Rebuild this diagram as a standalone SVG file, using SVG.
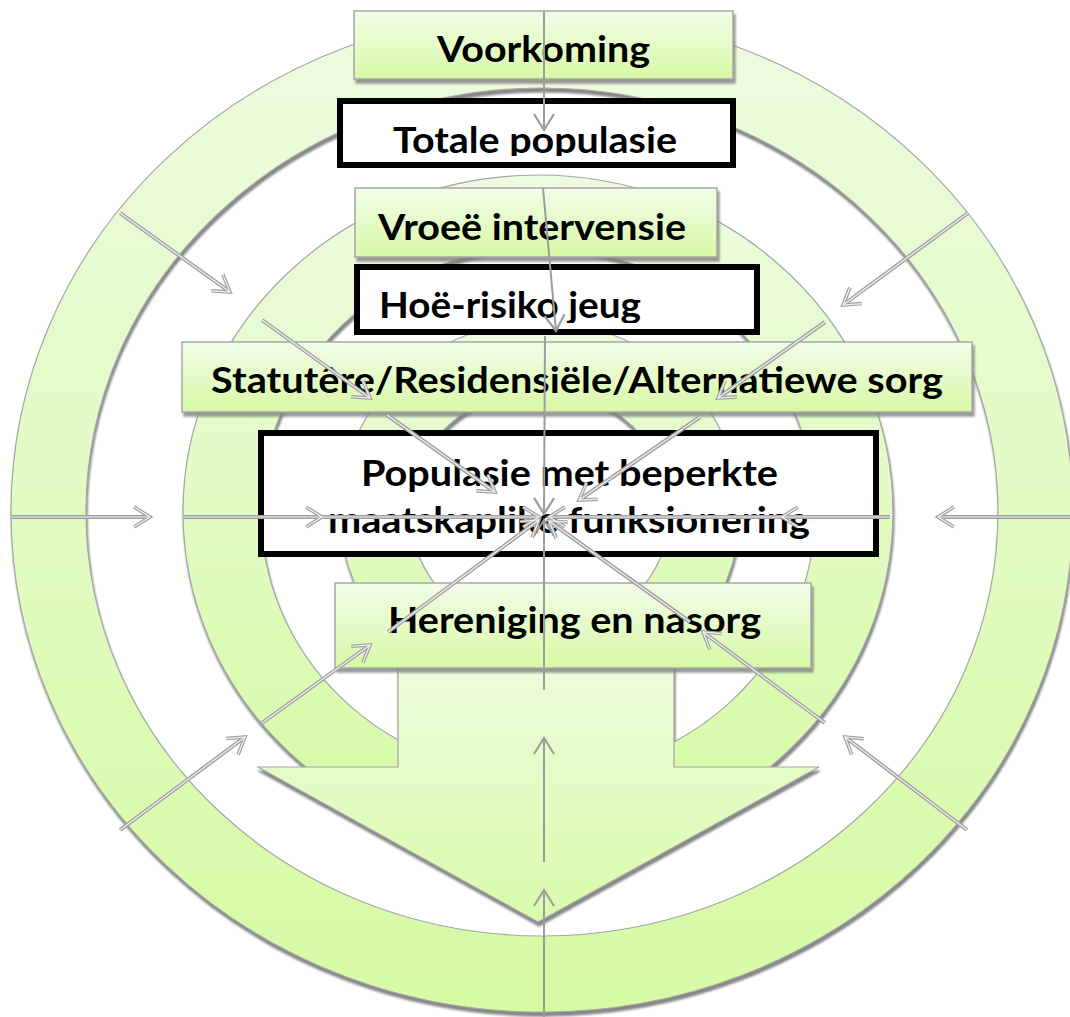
<svg xmlns="http://www.w3.org/2000/svg" width="1070" height="1017" viewBox="0 0 1070 1017">
<style>
.ring{fill:url(#gRing);stroke:#a6a6a6;stroke-width:1.2;fill-rule:evenodd}
.gbox{fill:url(#gBox);stroke:#a6a6a6;stroke-width:1.5}
.wbox{fill:#ffffff;stroke:#000000;stroke-width:6}
.lbl{font-family:Lato,'Liberation Sans',sans-serif;font-weight:bold;font-size:37px;fill:#000000}
.dbl path{fill:none;stroke:#a0a0a0;stroke-width:4;marker-end:url(#aD)}
.dbli path{fill:none;stroke:#f2f2f2;stroke-width:1.2;marker-end:url(#aDi)}
.sgl path{fill:none;stroke:#9c9c9c;stroke-width:2;marker-end:url(#aS)}
</style>
<defs>
<linearGradient id="gRing" x1="0" y1="0" x2="0" y2="1">
<stop offset="0" stop-color="#edfbe0"/>
<stop offset="1" stop-color="#d6fba4"/>
</linearGradient>
<linearGradient id="gBox" x1="0" y1="0" x2="0" y2="1">
<stop offset="0" stop-color="#f2fde9"/>
<stop offset="1" stop-color="#d8f9a6"/>
</linearGradient>
<linearGradient id="gArrow" x1="0" y1="0" x2="0" y2="1">
<stop offset="0" stop-color="#f1fde8"/>
<stop offset="1" stop-color="#d9fbab"/>
</linearGradient>
<filter id="shR" x="-5%" y="-5%" width="110%" height="112%">
<feDropShadow dx="1" dy="4" stdDeviation="1" flood-color="#7a7a7a" flood-opacity="0.9"/>
</filter>
<filter id="shB" x="-5%" y="-10%" width="110%" height="130%">
<feDropShadow dx="2" dy="4" stdDeviation="0.8" flood-color="#808080" flood-opacity="0.8"/>
</filter>
<clipPath id="cut2"><rect x="0" y="0" width="1070" height="767"/></clipPath>
<clipPath id="clipTot"><rect x="330" y="95" width="410" height="61"/></clipPath>
<clipPath id="clipHoe"><rect x="350" y="262" width="410" height="61"/></clipPath>
<marker id="aD" viewBox="0 0 20 22" refX="17" refY="11" markerWidth="20" markerHeight="22" markerUnits="userSpaceOnUse" orient="auto" overflow="visible">
<path d="M1,1 L17,11 L1,21" fill="none" stroke="#a0a0a0" stroke-width="3.6"/>
</marker>
<marker id="aDi" viewBox="0 0 20 22" refX="17" refY="11" markerWidth="20" markerHeight="22" markerUnits="userSpaceOnUse" orient="auto" overflow="visible">
<path d="M1,1 L17,11 L1,21" fill="none" stroke="#f2f2f2" stroke-width="1.2"/>
</marker>
<marker id="aS" viewBox="0 0 20 22" refX="17" refY="11" markerWidth="20" markerHeight="22" markerUnits="userSpaceOnUse" orient="auto" overflow="visible">
<path d="M1,1 L17,11 L1,21" fill="none" stroke="#9c9c9c" stroke-width="2.2"/>
</marker>
</defs>
<rect width="1070" height="1017" fill="#ffffff"/>

<g id="ring-outer" filter="url(#shR)">
<path class="ring" d="M11,512 A531,500 0 1,1 1073,512 A531,500 0 1,1 11,512 Z M86,512 A456,424 0 1,0 998,512 A456,424 0 1,0 86,512 Z"/>
</g>
<g id="ring-inner" filter="url(#shR)">
<path class="ring" d="M340,512 A200,190 0 1,1 740,512 A200,190 0 1,1 340,512 Z M410,512 A130,122 0 1,0 670,512 A130,122 0 1,0 410,512 Z"/>
</g>
<g id="ring-middle" filter="url(#shR)">
<path class="ring" clip-path="url(#cut2)" d="M183,512 A355,337 0 1,1 893,512 A355,337 0 1,1 183,512 Z M261,512 A277,264 0 1,0 815,512 A277,264 0 1,0 261,512 Z"/>
<path fill="url(#gArrow)" stroke="#a6a6a6" stroke-width="1.2" d="M398,600 L674,600 L674,767 L819,767 L538,922 L258,767 L398,767 Z"/>
</g>

<g id="node-voorkoming">
<rect class="gbox" filter="url(#shB)" x="354" y="11" width="379" height="68"/>
<text class="lbl" x="437" y="62" textLength="213" lengthAdjust="spacingAndGlyphs">Voorkoming</text>
</g>
<g id="node-totale">
<rect class="wbox" x="340" y="101" width="393" height="64"/>
<text class="lbl" clip-path="url(#clipTot)" x="393" y="153" textLength="284" lengthAdjust="spacingAndGlyphs">Totale populasie</text>
</g>
<g id="node-vroee">
<rect class="gbox" filter="url(#shB)" x="355" y="188" width="362" height="69"/>
<text class="lbl" x="378" y="240" textLength="308" lengthAdjust="spacingAndGlyphs">Vroeë intervensie</text>
</g>
<g id="node-hoerisiko">
<rect class="wbox" x="357" y="267" width="400" height="65"/>
<text class="lbl" clip-path="url(#clipHoe)" x="379" y="318" textLength="262" lengthAdjust="spacingAndGlyphs">Hoë-risiko jeug</text>
</g>
<g id="node-statutere">
<rect class="gbox" filter="url(#shB)" x="182" y="342" width="790" height="70"/>
<text class="lbl" x="211" y="393" textLength="732" lengthAdjust="spacingAndGlyphs">Statutêre/Residensiële/Alternatiewe sorg</text>
</g>
<g id="node-populasie">
<rect class="wbox" x="261" y="433" width="615" height="121"/>
<text class="lbl" x="361" y="486" textLength="417" lengthAdjust="spacingAndGlyphs">Populasie met beperkte</text>
<text class="lbl" x="328" y="533" textLength="482" lengthAdjust="spacingAndGlyphs">maatskaplike funksionering</text>
</g>
<g id="node-hereniging">
<rect class="gbox" filter="url(#shB)" x="335" y="583" width="476" height="85"/>
<text class="lbl" x="388" y="633" textLength="373" lengthAdjust="spacingAndGlyphs">Hereniging en nasorg</text>
</g>

<g id="connectors">
<g class="sgl">
<path d="M544,12 L544,130"/>
<path d="M543,188 L556,331"/>
<path d="M545,336 L544,514"/>
<path d="M544,690 L544,520"/>
<path d="M544,862 L544,738"/>
<path d="M544,1017 L544,890"/>
</g>
<g class="dbl">
<path d="M10,517 L150,517"/>
<path d="M183,517 L322,517"/>
<path d="M322,517 L539,517"/>
<path d="M1070,517 L938,517"/>
<path d="M890,517 L782,517"/>
<path d="M782,517 L549,517"/>
<path d="M120,213 L230,292"/>
<path d="M262,320 L370,398"/>
<path d="M387,415 L495,492"/>
<path d="M968,213 L843,305"/>
<path d="M825,322 L718,398"/>
<path d="M700,417 L579,500"/>
<path d="M120,830 L245,737"/>
<path d="M262,723 L370,645"/>
<path d="M388,632 L539,520"/>
<path d="M967,830 L845,737"/>
<path d="M825,723 L703,632"/>
<path d="M690,622 L549,521"/>
</g>
<g class="dbli">
<path d="M10,517 L150,517"/>
<path d="M183,517 L322,517"/>
<path d="M322,517 L539,517"/>
<path d="M1070,517 L938,517"/>
<path d="M890,517 L782,517"/>
<path d="M782,517 L549,517"/>
<path d="M120,213 L230,292"/>
<path d="M262,320 L370,398"/>
<path d="M387,415 L495,492"/>
<path d="M968,213 L843,305"/>
<path d="M825,322 L718,398"/>
<path d="M700,417 L579,500"/>
<path d="M120,830 L245,737"/>
<path d="M262,723 L370,645"/>
<path d="M388,632 L539,520"/>
<path d="M967,830 L845,737"/>
<path d="M825,723 L703,632"/>
<path d="M690,622 L549,521"/>
</g>
</g>
</svg>
